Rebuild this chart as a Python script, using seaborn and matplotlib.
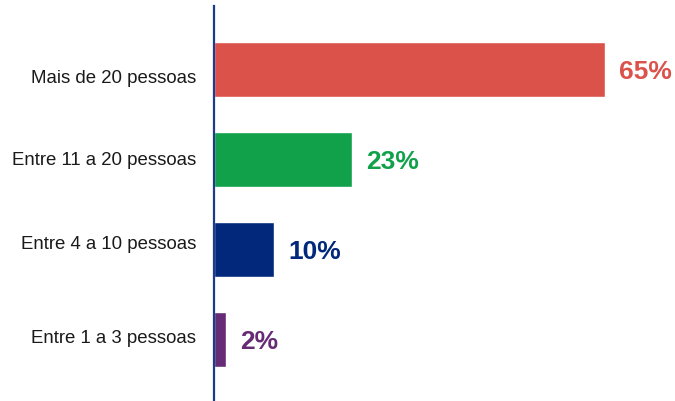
import matplotlib
matplotlib.use("Agg")
import matplotlib.pyplot as plt
import matplotlib.transforms as mtransforms
import seaborn as sns
import pandas as pd

# Survey: group size distribution
categories = ["Mais de 20 pessoas", "Entre 11 a 20 pessoas", "Entre 4 a 10 pessoas", "Entre 1 a 3 pessoas"]
values = [65, 23, 10, 2]
colors = ["#db524b", "#11a14a", "#01287a", "#652b74"]

df = pd.DataFrame({"categoria": categories, "valor": values})

sns.set_theme(style="white")
plt.rcParams["font.family"] = ["Liberation Sans", "DejaVu Sans"]

fig = plt.figure(figsize=(6.75, 4.02), dpi=100)
ax = fig.add_axes([214 / 675, 0.0, 1 - 214 / 675, 1 - 7 / 402])

sns.barplot(data=df, y="categoria", x="valor", hue="categoria", palette=colors,
            orient="h", width=0.61, legend=False, ax=ax, saturation=1)

ax.set_xlim(0, 461 / (391 / 65))
ax.set_ylim(3.683, -0.706)

# value labels just right of each bar
for i, (v, c) in enumerate(zip(values, colors)):
    ax.text(v + 2.3, i + 0.02, f"{v}%", color=c, fontsize=19, fontweight="bold",
            va="center", ha="left")

for side in ["top", "right", "bottom"]:
    ax.spines[side].set_visible(False)
ax.spines["left"].set_color("#1d3b8a")
ax.spines["left"].set_linewidth(1.6)

ax.set_xlabel("")
ax.set_ylabel("")
ax.set_xticks([])
ax.tick_params(axis="y", length=0, pad=13, labelsize=13.4, labelcolor="#1a1a1a")

# small vertical nudges of the category labels (pixels, downward positive)
nudges = [-6, 2, 8, 4]
for lab, dy in zip(ax.get_yticklabels(), nudges):
    lab.set_transform(lab.get_transform() +
                      mtransforms.ScaledTranslation(0, dy / 100, fig.dpi_scale_trans))

fig.savefig("out.png", dpi=100)
